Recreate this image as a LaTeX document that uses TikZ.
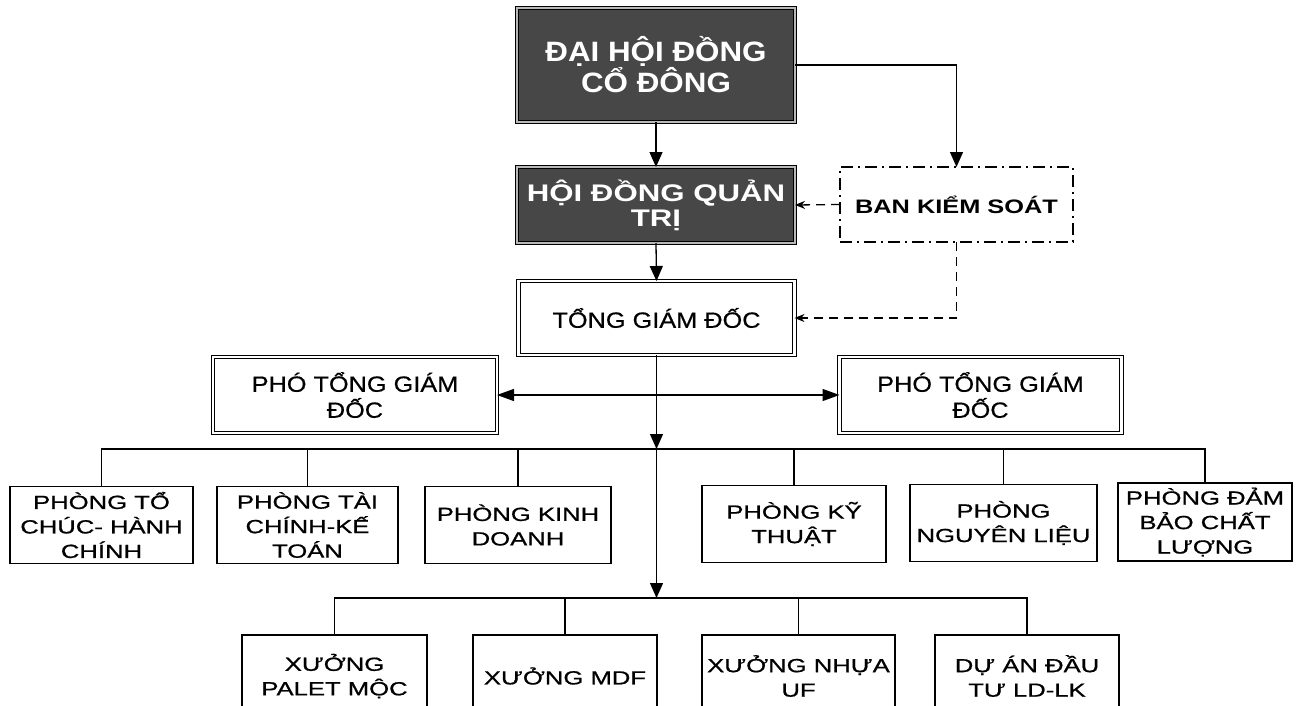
\documentclass[tikz,border=0pt]{standalone}
\usepackage{fontspec}
\setmainfont{Liberation Sans}
\newfontfamily\ftop[FakeStretch=1.12]{Liberation Sans}
\newfontfamily\fhd[FakeStretch=1.3]{Liberation Sans}
\newfontfamily\fmid[FakeStretch=1.15,FakeBold=0.6]{Liberation Sans}
\newfontfamily\fbks[FakeStretch=1.3]{Liberation Sans}
\newfontfamily\fbody[FakeStretch=1.35,FakeBold=0.8]{Liberation Sans}
\usetikzlibrary{arrows.meta}
\begin{document}
\begin{tikzpicture}[x=1pt,y=-1pt,
  darkbox/.style={draw=black, line width=1.2pt, double=gray!55, double distance=2.2pt,
    fill=black!72, text=white, inner sep=0pt, outer sep=0pt, align=center,
    font=\ftop\bfseries\fontsize{28}{24}\selectfont},
  dblbox/.style={draw=black, line width=0.9pt, double=white, double distance=2.4pt,
    fill=white, inner sep=0pt, outer sep=0pt, align=center,
    font=\fmid\fontsize{22}{26}\selectfont},
  bksbox/.style={draw=black, line width=1.2pt, dash pattern=on 12pt off 5pt on 2pt off 5pt,
    fill=white, inner sep=0pt, outer sep=0pt, align=center,
    font=\fbks\bfseries\fontsize{19.5}{22}\selectfont},
  pbox/.style={draw=black, line width=1.3pt, fill=white, inner sep=0pt, outer sep=0pt,
    align=center, minimum height=77pt, font=\fbody\fontsize{19}{24.5}\selectfont},
  xbox/.style={pbox, minimum height=82pt},
  conn/.style={draw=black, line width=1.3pt},
  dashconn/.style={draw=black, line width=1.3pt, dash pattern=on 9pt off 6pt},
  bigtri/.tip={Triangle[length=15pt,width=13pt]},
  midtri/.tip={Triangle[length=17pt,width=12pt]},
  smallst/.tip={Stealth[length=10pt,width=8pt]}
]
\useasboundingbox (0,0) rectangle (1306,706);
\clip (0,0) rectangle (1306,706);

\node[darkbox, minimum width=278pt, minimum height=114pt] (dh) at (656,65) {ĐẠI HỘI ĐỒNG\\CỔ ĐÔNG};
\node[darkbox, font=\fhd\bfseries\fontsize{24}{25}\selectfont, minimum width=278pt, minimum height=76pt] (hd) at (656,205) {HỘI ĐỒNG QUẢN\\TRỊ};
\node[bksbox, minimum width=233pt, minimum height=75pt] (bks) at (956.5,204.5) {BAN KIỂM SOÁT};
\node[dblbox, minimum width=276pt, minimum height=74pt] (tgd) at (656.5,318) {TỔNG GIÁM ĐỐC};
\node[dblbox, minimum width=284pt, minimum height=76pt] (pl) at (355,395) {PHÓ TỔNG GIÁM\\ĐỐC};
\node[dblbox, minimum width=282pt, minimum height=76pt] (pr) at (980.5,395) {PHÓ TỔNG GIÁM\\ĐỐC};

\node[pbox, minimum width=183pt] (p1) at (101.5,525) {PHÒNG TỔ\\CHÚC- HÀNH\\CHÍNH};
\node[pbox, minimum width=181pt] (p2) at (307.5,525) {PHÒNG TÀI\\CHÍNH-KẾ\\TOÁN};
\node[pbox, minimum width=186pt] (p3) at (518,525) {PHÒNG KINH\\DOANH};
\node[pbox, minimum width=184pt] (p4) at (794,524) {PHÒNG KỸ\\THUẬT};
\node[pbox, minimum width=187pt] (p5) at (1003.5,523) {PHÒNG\\NGUYÊN LIỆU};
\node[pbox, minimum width=174pt, minimum height=78pt] (p6) at (1205,522) {PHÒNG ĐẢM\\BẢO CHẤT\\LƯỢNG};

\node[xbox, minimum width=185pt] (x1) at (334.5,676) {XƯỞNG\\PALET MỘC};
\node[xbox, minimum width=184pt] (x2) at (565,676) {XƯỞNG MDF};
\node[xbox, minimum width=193pt] (x3) at (798.5,676) {XƯỞNG NHỰA\\UF};
\node[xbox, minimum width=184pt] (x4) at (1027,676) {DỰ ÁN ĐẦU\\TƯ LD-LK};

\coordinate (bus) at (tgd.south |- 0,449);
\coordinate (bus2) at (tgd.south |- 0,598);

\draw[conn,-bigtri] (dh.south) -- (hd.north);
\draw[conn,-bigtri] (dh.east) -| (bks.north);
\draw[dashconn,-smallst] (bks.west) -- (hd.east);
\draw[dashconn,-smallst] (bks.south) |- (tgd.east);
\draw[conn,-bigtri] (hd.south) -- (tgd.north);
\draw[conn,-bigtri] (tgd.south) -- (bus);
\draw[conn,-bigtri] (bus) -- (bus2);
\draw[conn,midtri-midtri] (pl.east) -- (pr.west);

\draw[conn] (p1.north) |- (p6.north |- bus) -- (p6.north);
\foreach \n in {p2,p3,p4,p5} \draw[conn] (\n.north) -- (\n.north |- bus);
\draw[conn] (x1.north) |- (x4.north |- bus2) -- (x4.north);
\foreach \n in {x2,x3} \draw[conn] (\n.north) -- (\n.north |- bus2);
\end{tikzpicture}
\end{document}
